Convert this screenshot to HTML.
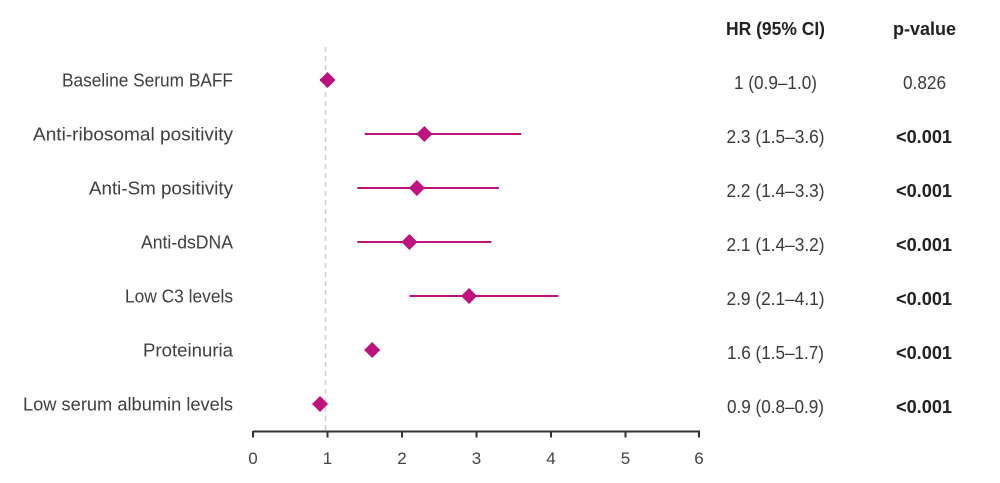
<!DOCTYPE html>
<html>
<head>
<meta charset="utf-8">
<style>
  html,body{margin:0;padding:0;background:#fff;}
  svg{display:block;}
  text{font-family:"Liberation Sans",sans-serif;}
</style>
</head>
<body>
<svg width="1000" height="483" viewBox="0 0 1000 483" xmlns="http://www.w3.org/2000/svg">
  <rect width="1000" height="483" fill="#fff"/>
  <!-- reference dashed line -->
  <line x1="325.5" y1="47" x2="325.5" y2="431" stroke="#cfcfcf" stroke-width="1.5" stroke-dasharray="5,4"/>

  <!-- axis -->
  <g stroke="#333" stroke-width="2" fill="none">
    <line x1="253" y1="431.5" x2="700" y2="431.5"/>
    <line x1="253" y1="431" x2="253" y2="437.5"/>
    <line x1="327.5" y1="431" x2="327.5" y2="437.5"/>
    <line x1="402" y1="431" x2="402" y2="437.5"/>
    <line x1="476.5" y1="431" x2="476.5" y2="437.5"/>
    <line x1="551" y1="431" x2="551" y2="437.5"/>
    <line x1="625.5" y1="431" x2="625.5" y2="437.5"/>
    <line x1="699" y1="431" x2="699" y2="437.5"/>
  </g>
  <g font-size="17" fill="#444" text-anchor="middle">
    <text x="253" y="464">0</text>
    <text x="327.5" y="464">1</text>
    <text x="402" y="464">2</text>
    <text x="476.5" y="464">3</text>
    <text x="551" y="464">4</text>
    <text x="625.5" y="464">5</text>
    <text x="699" y="464">6</text>
  </g>

  <!-- CI lines -->
  <g stroke="#c0127f" stroke-width="2">
    <line x1="320.05" y1="80" x2="327.5" y2="80"/>
    <line x1="364.75" y1="134" x2="521.2" y2="134"/>
    <line x1="357.3" y1="188" x2="498.85" y2="188"/>
    <line x1="357.3" y1="242" x2="491.4" y2="242"/>
    <line x1="409.45" y1="296" x2="558.45" y2="296"/>
    <line x1="364.75" y1="350" x2="379.65" y2="350"/>
    <line x1="312.6" y1="404" x2="320.05" y2="404"/>
  </g>
  <!-- diamonds -->
  <g fill="#c0127f">
    <polygon points="327.5,72 335.5,80 327.5,88 319.5,80"/>
    <polygon points="424.35,126 432.35,134 424.35,142 416.35,134"/>
    <polygon points="416.9,180 424.9,188 416.9,196 408.9,188"/>
    <polygon points="409.45,234 417.45,242 409.45,250 401.45,242"/>
    <polygon points="469.05,288 477.05,296 469.05,304 461.05,296"/>
    <polygon points="372.2,342 380.2,350 372.2,358 364.2,350"/>
    <polygon points="320.05,396 328.05,404 320.05,412 312.05,404"/>
  </g>

  <!-- left labels -->
  <g font-size="18" fill="#3f3f3f" text-anchor="end">
    <text x="233" y="86.5" textLength="171" lengthAdjust="spacingAndGlyphs">Baseline Serum BAFF</text>
    <text x="233" y="140.5" textLength="200" lengthAdjust="spacingAndGlyphs">Anti-ribosomal positivity</text>
    <text x="233" y="194.5" textLength="144" lengthAdjust="spacingAndGlyphs">Anti-Sm positivity</text>
    <text x="233" y="248.5" textLength="92" lengthAdjust="spacingAndGlyphs">Anti-dsDNA</text>
    <text x="233" y="302.5" textLength="108" lengthAdjust="spacingAndGlyphs">Low C3 levels</text>
    <text x="233" y="356.5" textLength="90" lengthAdjust="spacingAndGlyphs">Proteinuria</text>
    <text x="233" y="410.5" textLength="210" lengthAdjust="spacingAndGlyphs">Low serum albumin levels</text>
  </g>

  <!-- headers -->
  <g font-size="18" font-weight="bold" fill="#222" text-anchor="middle">
    <text x="775.5" y="35" textLength="99" lengthAdjust="spacingAndGlyphs">HR (95% CI)</text>
    <text x="924.5" y="35" textLength="63" lengthAdjust="spacingAndGlyphs">p-value</text>
  </g>

  <!-- HR column -->
  <g font-size="18" fill="#3a3a3a" text-anchor="middle">
    <text x="775.5" y="89" textLength="83" lengthAdjust="spacingAndGlyphs">1 (0.9–1.0)</text>
    <text x="775.5" y="143" textLength="98" lengthAdjust="spacingAndGlyphs">2.3 (1.5–3.6)</text>
    <text x="775.5" y="197" textLength="98" lengthAdjust="spacingAndGlyphs">2.2 (1.4–3.3)</text>
    <text x="775.5" y="251" textLength="98" lengthAdjust="spacingAndGlyphs">2.1 (1.4–3.2)</text>
    <text x="775.5" y="305" textLength="98" lengthAdjust="spacingAndGlyphs">2.9 (2.1–4.1)</text>
    <text x="775.5" y="359" textLength="97" lengthAdjust="spacingAndGlyphs">1.6 (1.5–1.7)</text>
    <text x="775.5" y="413" textLength="97" lengthAdjust="spacingAndGlyphs">0.9 (0.8–0.9)</text>
  </g>

  <!-- p-value column -->
  <g font-size="18" fill="#222" text-anchor="middle">
    <text x="924.5" y="89" fill="#3a3a3a" textLength="43" lengthAdjust="spacingAndGlyphs">0.826</text>
    <text x="924" y="143" font-weight="bold" textLength="56" lengthAdjust="spacingAndGlyphs">&lt;0.001</text>
    <text x="924" y="197" font-weight="bold" textLength="56" lengthAdjust="spacingAndGlyphs">&lt;0.001</text>
    <text x="924" y="251" font-weight="bold" textLength="56" lengthAdjust="spacingAndGlyphs">&lt;0.001</text>
    <text x="924" y="305" font-weight="bold" textLength="56" lengthAdjust="spacingAndGlyphs">&lt;0.001</text>
    <text x="924" y="359" font-weight="bold" textLength="56" lengthAdjust="spacingAndGlyphs">&lt;0.001</text>
    <text x="924" y="413" font-weight="bold" textLength="56" lengthAdjust="spacingAndGlyphs">&lt;0.001</text>
  </g>
</svg>
</body>
</html>
